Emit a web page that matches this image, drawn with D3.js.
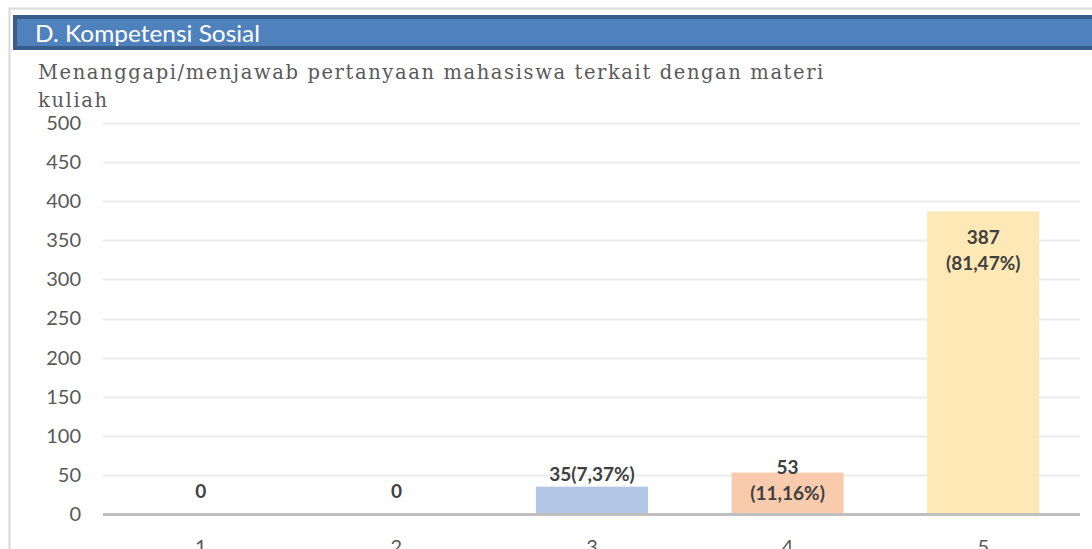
<!DOCTYPE html>
<html>
<head>
<meta charset="utf-8">
<script src="https://cdn.jsdelivr.net/npm/d3@7"></script>
<style>
  html, body { margin: 0; padding: 0; background: #fff; }
  svg { display: block; }
</style>
</head>
<body>
<svg id="chart" width="1092" height="549"></svg>
<script>
// Survey response counts per rating score
const categories = ["1", "2", "3", "4", "5"];
const counts = [0, 0, 35, 53, 387];
const labelLines = [["0"], ["0"], ["35(7,37%)"], ["53", "(11,16%)"], ["387", "(81,47%)"]];
const barColors = ["#b4c7e7", "#b4c7e7", "#b4c7e7", "#f8cbad", "#fee8b6"];
const yTicks = [0, 50, 100, 150, 200, 250, 300, 350, 400, 450, 500];
const sectionTitle = "D. Kompetensi Sosial";
const chartTitle = ["Menanggapi/menjawab pertanyaan mahasiswa terkait dengan materi", "kuliah"];

const svg = d3.select("#chart");
const W = 1092, H = 549;
const sans = "Lato, 'Open Sans', sans-serif";

// outer frame
svg.append("path")
  .attr("d", `M9.5,${H} V8.5 H${W}`)
  .attr("fill", "none").attr("stroke", "#d9d9d9").attr("stroke-width", 2);

// section header band
svg.append("rect")
  .attr("x", 15).attr("y", 17).attr("width", W - 13).attr("height", 31)
  .attr("fill", "#4f81bd").attr("stroke", "#385d8a").attr("stroke-width", 4);
svg.append("text")
  .attr("x", 35).attr("y", 42)
  .attr("font-family", sans).attr("font-size", 23).attr("fill", "#fff")
  .attr("textLength", 225).attr("lengthAdjust", "spacingAndGlyphs")
  .text(sectionTitle);

// chart title (two lines)
svg.append("g").selectAll("text").data(chartTitle).join("text")
  .attr("x", 38).attr("y", (d, i) => 79 + i * 28)
  .attr("font-family", "'DejaVu Serif', 'Liberation Serif', serif")
  .attr("font-size", 19.5).attr("letter-spacing", 1.6).attr("fill", "#595959")
  .text(d => d);

const x = d3.scaleBand().domain(categories).range([103, 1081]).paddingInner(0.427).paddingOuter(0.2135);
const y = d3.scaleLinear().domain([0, 500]).range([514, 123]);

// gridlines
svg.append("g").selectAll("line").data(yTicks.filter(d => d > 0)).join("line")
  .attr("x1", 103).attr("x2", 1080)
  .attr("y1", d => Math.round(y(d)) + 0.5).attr("y2", d => Math.round(y(d)) + 0.5)
  .attr("stroke", "#ececec").attr("stroke-width", 2);

// y axis labels
const yAxis = d3.axisLeft(y).tickValues(yTicks).tickSize(0).tickPadding(0);
const yg = svg.append("g").attr("transform", "translate(81,0)").call(yAxis);
yg.select(".domain").remove();
yg.selectAll("text").attr("font-family", sans).attr("font-size", 20).attr("fill", "#595959");

// bars
svg.append("g").selectAll("rect").data(counts).join("rect")
  .attr("x", (d, i) => x(categories[i]))
  .attr("y", d => y(d))
  .attr("width", x.bandwidth())
  .attr("height", d => y(0) - y(d))
  .attr("fill", (d, i) => barColors[i]);

// baseline
svg.append("line")
  .attr("x1", 103).attr("x2", 1080).attr("y1", y(0) + 0.5).attr("y2", y(0) + 0.5)
  .attr("stroke", "#bfbfbf").attr("stroke-width", 3);

// x axis labels
const xAxis = d3.axisBottom(x).tickSize(0).tickPadding(0);
const xg = svg.append("g").attr("transform", `translate(0,${y(0) + 22})`).call(xAxis);
xg.select(".domain").remove();
xg.selectAll("text").attr("font-family", sans).attr("font-size", 20).attr("fill", "#595959").attr("dy", "0.9em");

// value labels
const lbl = svg.append("g").attr("font-family", sans).attr("font-weight", "bold")
  .attr("font-size", 19).attr("fill", "#404040").attr("text-anchor", "middle");
counts.forEach((v, i) => {
  const cx = x(categories[i]) + x.bandwidth() / 2;
  const lines = labelLines[i];
  let top;
  if (v > 200) top = y(v) + 33;                  // inside a tall bar
  else if (lines.length === 2) top = y(v) + 1;   // straddling a short bar
  else if (v === 0) top = y(v) - 16;
  else top = y(v) - 6;
  lines.forEach((t, j) => {
    lbl.append("text").attr("x", cx).attr("y", top + j * 26).text(t);
  });
});
</script>
</body>
</html>
